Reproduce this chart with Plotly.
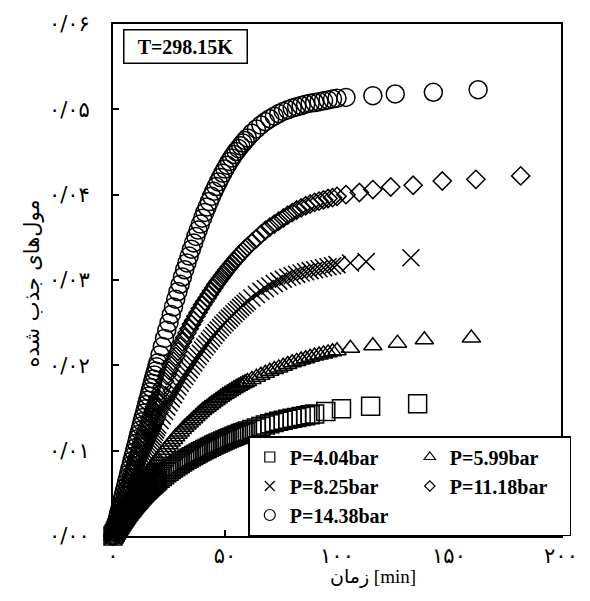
import plotly.graph_objects as go

# Sampling times of the dense part of each run [min]
t_dense = [0, 0.5, 1, 1.5, 2, 2.5, 3, 3.5, 4, 4.5, 5, 5.5, 6, 6.5, 7, 7.5, 8, 8.5, 9, 9.5,
           10, 10.5, 11, 11.5, 12, 12.5, 13, 13.5, 14, 14.5, 15, 15.5, 16, 16.5, 17, 17.5,
           18, 18.5, 19, 19.5, 20,
           21, 22, 23, 24, 25, 26, 27, 28, 29, 30, 31, 32, 33, 34, 35, 36, 37, 38, 39, 40,
           41, 42, 43, 44, 45, 46, 47, 48, 49, 50, 51, 52, 53, 54, 55, 56, 57, 58, 59, 60,
           62, 64, 66, 68, 70, 72, 74, 76, 78, 80, 82, 84, 86, 88, 90, 92, 94, 96, 98, 100]

# Adsorbed moles, in units of 1e-3 mol
p404_dense = [0, 0.23, 0.46, 0.69, 0.91, 1.12, 1.33, 1.54, 1.75, 1.95, 2.15, 2.34, 2.53, 2.72,
              2.9, 3.07, 3.24, 3.41, 3.57, 3.74, 3.9, 4.05, 4.2, 4.35, 4.5, 4.65, 4.8, 4.94,
              5.08, 5.22, 5.35, 5.48, 5.6, 5.73, 5.85, 5.97, 6.09, 6.21, 6.32, 6.44, 6.55,
              6.77, 6.98, 7.19, 7.4, 7.6, 7.79, 7.97, 8.15, 8.33, 8.5, 8.67, 8.83, 8.99, 9.15,
              9.3, 9.44, 9.58, 9.72, 9.86, 10.0,
              10.13, 10.26, 10.39, 10.52, 10.65, 10.77, 10.89, 11.01, 11.13, 11.25, 11.36,
              11.47, 11.58, 11.69, 11.8, 11.9, 12.0, 12.1, 12.2, 12.3,
              12.48, 12.66, 12.84, 13.0, 13.15, 13.3, 13.44, 13.57, 13.69, 13.8, 13.9, 14.0,
              14.1, 14.2, 14.3]
p404_tail_t = [95, 102, 115, 136]
p404_tail_v = [14.6, 14.9, 15.2, 15.5]

p599_dense = [0, 0.27, 0.54, 0.81, 1.07, 1.33, 1.59, 1.85, 2.1, 2.35, 2.6, 2.85, 3.09, 3.33,
              3.57, 3.81, 4.05, 4.29, 4.53, 4.77, 5.0, 5.22, 5.44, 5.66, 5.87, 6.08, 6.29, 6.5,
              6.7, 6.9, 7.1, 7.3, 7.49, 7.69, 7.88, 8.07, 8.26, 8.45, 8.63, 8.82, 9.0,
              9.35, 9.7, 10.04, 10.37, 10.7, 11.01, 11.32, 11.62, 11.91, 12.2, 12.47, 12.74,
              13.0, 13.25, 13.5, 13.75, 13.99, 14.23, 14.47, 14.7,
              14.9, 15.1, 15.3, 15.5, 15.69, 15.88, 16.07, 16.25, 16.43, 16.6, 16.77, 16.93,
              17.09, 17.25, 17.4, 17.55, 17.69, 17.83, 17.97, 18.1,
              18.35, 18.6, 18.83, 19.07, 19.3, 19.5, 19.7, 19.9, 20.1, 20.3, 20.46, 20.62,
              20.78, 20.94, 21.1, 21.22, 21.34, 21.46, 21.58, 21.7]
p599_tail_t = [106, 116, 127, 139, 160]
p599_tail_v = [22.0, 22.3, 22.6, 23.0, 23.2]

p825_dense = [0, 0.37, 0.73, 1.1, 1.46, 1.82, 2.18, 2.54, 2.9, 3.25, 3.6, 3.95, 4.3, 4.65,
              5.0, 5.33, 5.66, 6.0, 6.33, 6.67, 7.0, 7.32, 7.63, 7.95, 8.26, 8.57, 8.88, 9.19,
              9.5, 9.8, 10.1, 10.4, 10.7, 11.0, 11.3, 11.59, 11.87, 12.16, 12.44, 12.72, 13.0,
              13.53, 14.06, 14.58, 15.1, 15.6, 16.07, 16.54, 17.0, 17.45, 17.9, 18.3, 18.7,
              19.1, 19.5, 19.9, 20.28, 20.66, 21.04, 21.42, 21.8,
              22.15, 22.5, 22.84, 23.17, 23.5, 23.83, 24.13, 24.43, 24.72, 25.0, 25.27, 25.53,
              25.79, 26.05, 26.3, 26.55, 26.79, 27.03, 27.27, 27.5,
              27.9, 28.3, 28.68, 29.0, 29.3, 29.6, 29.87, 30.1, 30.32, 30.5, 30.66, 30.82,
              30.97, 31.1, 31.2, 31.32, 31.44, 31.56, 31.68, 31.8]
p825_tail_t = [106, 113, 133]
p825_tail_v = [32.0, 32.15, 32.6]

p1118_dense = [0, 0.45, 0.9, 1.35, 1.8, 2.25, 2.7, 3.13, 3.55, 3.98, 4.4, 4.83, 5.25, 5.68,
               6.1, 6.53, 6.95, 7.38, 7.8, 8.2, 8.6, 9.0, 9.4, 9.8, 10.2, 10.6, 11.0, 11.4,
               11.8, 12.2, 12.6, 12.98, 13.35, 13.73, 14.1, 14.45, 14.8, 15.15, 15.5, 15.85,
               16.2,
               16.85, 17.5, 18.15, 18.8, 19.4, 19.95, 20.5, 21.05, 21.65, 22.2, 22.75, 23.25,
               23.8, 24.3, 24.8, 25.25, 25.75, 26.2, 26.65, 27.1,
               27.5, 27.9, 28.3, 28.7, 29.1, 29.5, 29.85, 30.2, 30.55, 30.9, 31.23, 31.55,
               31.88, 32.2, 32.5, 32.8, 33.08, 33.35, 33.63, 33.9,
               34.4, 34.85, 35.35, 35.8, 36.2, 36.55, 36.9, 37.25, 37.6, 37.9, 38.2, 38.45,
               38.7, 38.9, 39.1, 39.25, 39.4, 39.55, 39.65, 39.8]
p1118_tail_t = [104, 110, 116, 124, 134, 147, 162, 182]
p1118_tail_v = [40.0, 40.25, 40.6, 40.9, 41.1, 41.6, 41.8, 42.2]

p1438_dense = [0, 0.52, 1.05, 1.58, 2.1, 2.62, 3.15, 3.68, 4.2, 4.7, 5.2, 5.72, 6.25, 6.78,
               7.3, 7.8, 8.3, 8.82, 9.35, 9.85, 10.35, 10.88, 11.4, 11.9, 12.4, 12.9, 13.4,
               13.9, 14.4, 14.9, 15.4, 15.9, 16.4, 16.9, 17.4, 17.9, 18.4, 18.88, 19.35,
               19.82, 20.3,
               21.25, 22.2, 23.15, 24.1, 25.0, 25.95, 26.85, 27.75, 28.65, 29.5, 30.35, 31.2,
               32.0, 32.8, 33.6, 34.35, 35.1, 35.85, 36.55, 37.25,
               37.92, 38.55, 39.19, 39.8, 40.39, 40.95, 41.49, 42.0, 42.51, 43.0, 43.46, 43.9,
               44.31, 44.7, 45.06, 45.4, 45.73, 46.05, 46.36, 46.65,
               47.2, 47.7, 48.15, 48.55, 48.9, 49.2, 49.5, 49.75, 49.95, 50.15, 50.3, 50.45,
               50.6, 50.7, 50.8, 50.9, 51.0, 51.1, 51.2, 51.3]
p1438_tail_t = [104, 116, 126, 143, 163]
p1438_tail_v = [51.4, 51.6, 51.8, 52.0, 52.3]

series_names = ["P=4.04bar", "P=5.99bar", "P=8.25bar", "P=11.18bar", "P=14.38bar"]

x_tickvals = [0, 50, 100, 150, 200]
x_ticktext = ["۰", "۵۰", "۱۰۰", "۱۵۰", "۲۰۰"]
y_tickvals = [0, 0.01, 0.02, 0.03, 0.04, 0.05, 0.06]
y_ticktext = ["۰/۰۰", "۰/۰۱", "۰/۰۲", "۰/۰۳", "۰/۰۴", "۰/۰۵", "۰/۰۶"]

SERIF = "Liberation Serif, Times New Roman, DejaVu Sans"
PERSIAN = "DejaVu Sans"

# (dense values, tail times, tail values, symbol, plot size, legend size)
runs = [
    (p404_dense, p404_tail_t, p404_tail_v, "square-open", 18, 10),
    (p599_dense, p599_tail_t, p599_tail_v, "triangle-up-open", 16, 10),
    (p825_dense, p825_tail_t, p825_tail_v, "x-thin-open", 17, 10),
    (p1118_dense, p1118_tail_t, p1118_tail_v, "diamond-open", 14, 8),
    (p1438_dense, p1438_tail_t, p1438_tail_v, "circle-open", 18, 11),
]

fig = go.Figure()
for name, (dense, tail_t, tail_v, symbol, size, _) in zip(series_names, runs):
    t = t_dense[:len(dense)] + tail_t
    v = [m / 1000 for m in dense + tail_v]
    fig.add_trace(go.Scatter(
        x=t, y=v, name=name, mode="markers", cliponaxis=False, showlegend=False,
        marker=dict(symbol=symbol, size=size, color="black",
                    line=dict(color="black", width=1.5)),
    ))

# Legend keys use smaller symbols than the plotted points
for name, (_, _, _, symbol, _, lsize) in zip(series_names, runs):
    fig.add_trace(go.Scatter(
        x=[None], y=[None], name=name, mode="markers",
        marker=dict(symbol=symbol, size=lsize, color="black",
                    line=dict(color="black", width=1.2)),
    ))

axis_common = dict(
    ticks="inside", ticklen=6, tickwidth=1.5, tickcolor="black",
    showline=True, linewidth=2, linecolor="black", mirror=True,
    showgrid=False, zeroline=False,
    tickfont=dict(family=PERSIAN, size=21, color="black"),
)
fig.update_xaxes(range=[0, 200], tickvals=x_tickvals, ticktext=x_ticktext,
                 ticklabelstandoff=0, **axis_common)
fig.update_yaxes(range=[0, 0.06], tickvals=y_tickvals, ticktext=y_ticktext,
                 ticklabelstandoff=17, **axis_common)

fig.update_layout(
    width=590, height=601,
    margin=dict(l=113, r=17, t=24, b=65),
    plot_bgcolor="white", paper_bgcolor="white",
    legend=dict(
        orientation="h", x=0.302, xanchor="left", y=0, yanchor="bottom",
        entrywidth=115, entrywidthmode="pixels", itemsizing="trace",
        itemwidth=30, tracegroupgap=0,
        bgcolor="white", bordercolor="black", borderwidth=1.5,
        font=dict(family=SERIF, size=20, color="black", weight="bold"),
    ),
    annotations=[
        dict(text="T=298.15K", xref="paper", yref="paper", x=0.022, y=0.99,
             xanchor="left", yanchor="top", showarrow=False, width=116, height=26,
             font=dict(family=SERIF, size=20, color="black", weight="bold"),
             bordercolor="black", borderwidth=1.5, borderpad=3, bgcolor="white"),
        dict(text="زمان [min]", xref="paper", yref="paper", x=0.58, y=-0.08,
             xanchor="center", yanchor="middle", showarrow=False,
             font=dict(family=SERIF, size=19, color="black")),
        dict(text="مول‌های جذب شده", xref="paper", yref="paper", x=-0.18, y=0.494,
             xanchor="center", yanchor="middle", showarrow=False, textangle=-90,
             font=dict(family=PERSIAN, size=21, color="black")),
    ],
)

fig.write_html("out.html")
